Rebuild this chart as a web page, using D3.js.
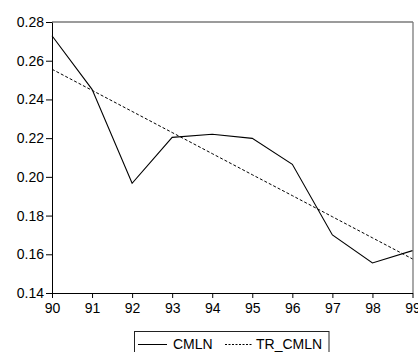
<!DOCTYPE html>
<html><head><meta charset="utf-8">
<script src="https://cdn.jsdelivr.net/npm/d3@7"></script>
<style>body{margin:0;background:#fff;} svg{display:block;} text{font-family:"Liberation Sans",Arial,sans-serif;}</style>
</head><body>
<svg id="c" width="418" height="352"></svg>
<script>
const years = [90, 91, 92, 93, 94, 95, 96, 97, 98, 99];
const cmln = [0.2729, 0.2452, 0.1967, 0.2204, 0.2220, 0.2199, 0.2065, 0.1700, 0.1555, 0.1619];
const trCmln = [0.2556, 0.2447, 0.2338, 0.2229, 0.2120, 0.2011, 0.1903, 0.1794, 0.1685, 0.1576];
const yTicks = [0.14, 0.16, 0.18, 0.20, 0.22, 0.24, 0.26, 0.28];
const seriesNames = ["CMLN", "TR_CMLN"];

const svg = d3.select("#c");
const L = 52, R = 412.5, T = 22, B = 293;
const x = d3.scaleLinear().domain([90, 99]).range([L, R]);
const y = d3.scaleLinear().domain([0.14, 0.28]).range([B, T]);

// frame top/right gray
svg.append("line").attr("x1", L).attr("x2", R + 0.5).attr("y1", T).attr("y2", T)
  .attr("stroke", "#7a7a7a").attr("stroke-width", 1.3);
svg.append("line").attr("x1", R + 0.5).attr("x2", R + 0.5).attr("y1", T).attr("y2", B)
  .attr("stroke", "#7a7a7a").attr("stroke-width", 1.3);

const xAxis = svg.append("g").attr("transform", `translate(0,${B})`)
  .call(d3.axisBottom(x).tickValues(years).tickFormat(d3.format("d")).tickSize(5).tickPadding(5).tickSizeOuter(0));
const yAxis = svg.append("g").attr("transform", `translate(${L},0)`)
  .call(d3.axisLeft(y).tickValues(yTicks).tickFormat(d3.format(".2f")).tickSize(6).tickPadding(2).tickSizeOuter(0));
[xAxis, yAxis].forEach(a => {
  a.selectAll("text").attr("font-size", 14).attr("fill", "#000").attr("font-family", "Liberation Sans, Arial, sans-serif");
  a.selectAll("line,path").attr("stroke", "#000");
});

const line = d3.line().x((d, i) => x(years[i])).y(d => y(d));
svg.append("path").datum(trCmln).attr("d", line).attr("fill", "none")
  .attr("stroke", "#000").attr("stroke-width", 1).attr("stroke-dasharray", "3,2");
svg.append("path").datum(cmln).attr("d", line).attr("fill", "none")
  .attr("stroke", "#000").attr("stroke-width", 1.1);

// legend
const lg = svg.append("g");
lg.append("rect").attr("x", 134.5).attr("y", 331.5).attr("width", 194.5).attr("height", 30)
  .attr("fill", "none").attr("stroke", "#222").attr("stroke-width", 1);
lg.append("line").attr("x1", 138).attr("x2", 167).attr("y1", 344.5).attr("y2", 344.5)
  .attr("stroke", "#000").attr("stroke-width", 1);
lg.append("text").attr("x", 173).attr("y", 348.8).attr("font-size", 14).text(seriesNames[0]);
lg.append("line").attr("x1", 225).attr("x2", 252).attr("y1", 344.5).attr("y2", 344.5)
  .attr("stroke", "#000").attr("stroke-width", 1).attr("stroke-dasharray", "2,1.5");
lg.append("text").attr("x", 256).attr("y", 348.8).attr("font-size", 14).text(seriesNames[1]);
</script>
</body></html>
